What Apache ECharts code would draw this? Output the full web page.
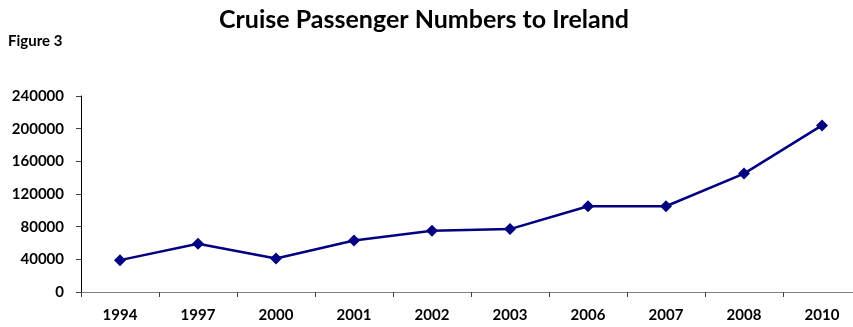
<!DOCTYPE html>
<html>
<head>
<meta charset="utf-8">
<script src="https://cdn.jsdelivr.net/npm/echarts@6/dist/echarts.min.js"></script>
<style>
  html, body { margin: 0; padding: 0; background: #ffffff; }
  #chart { width: 853px; height: 327px; }
</style>
</head>
<body>
<div id="chart"></div>
<script>
// Cruise passenger arrivals by year
const years = ['1994', '1997', '2000', '2001', '2002', '2003', '2006', '2007', '2008', '2010'];
const passengers = [39000, 59000, 41000, 63000, 75000, 77000, 105000, 105000, 145000, 204000];
const yTicks = [0, 40000, 80000, 120000, 160000, 200000, 240000];

const font = 'Lato, "Open Sans", sans-serif';
const chart = echarts.init(document.getElementById('chart'));

chart.setOption({
  backgroundColor: '#ffffff',
  animation: false,
  title: [
    {
      text: 'Cruise Passenger Numbers to Ireland',
      left: 419, top: 2, textAlign: 'center',
      textStyle: { fontFamily: font, fontWeight: 'bold', fontSize: 25, color: '#000000' }
    },
    {
      text: 'Figure 3',
      left: 3, top: 29,
      textStyle: { fontFamily: font, fontWeight: 'bold', fontSize: 15, color: '#000000' }
    }
  ],
  // the plot runs slightly past the right edge of the canvas
  grid: { left: 81, width: 780, top: 96, bottom: 35, outerBoundsMode: 'none', containLabel: false },
  xAxis: {
    type: 'category',
    data: years,
    boundaryGap: true,
    axisLine: { lineStyle: { color: '#808080', width: 1 } },
    axisTick: { show: true, inside: false, length: 5, alignWithLabel: false, lineStyle: { color: '#404040' } },
    axisLabel: { margin: 16, fontFamily: font, fontWeight: 'bold', fontSize: 15, color: '#000000' },
    splitLine: { show: false }
  },
  yAxis: {
    type: 'value',
    min: yTicks[0],
    max: yTicks[yTicks.length - 1],
    interval: yTicks[1] - yTicks[0],
    axisLine: { show: true, lineStyle: { color: '#000000', width: 1 } },
    axisTick: { show: true, length: 5, lineStyle: { color: '#404040' } },
    axisLabel: {
      margin: 17, fontFamily: font, fontWeight: 'bold', fontSize: 15, color: '#000000',
      formatter: (v) => String(v)
    },
    splitLine: { show: false }
  },
  series: [{
    type: 'line',
    data: passengers,
    symbol: 'diamond',
    symbolSize: 12,
    lineStyle: { color: '#000080', width: 2.5 },
    itemStyle: { color: '#000080' }
  }]
});
</script>
</body>
</html>
